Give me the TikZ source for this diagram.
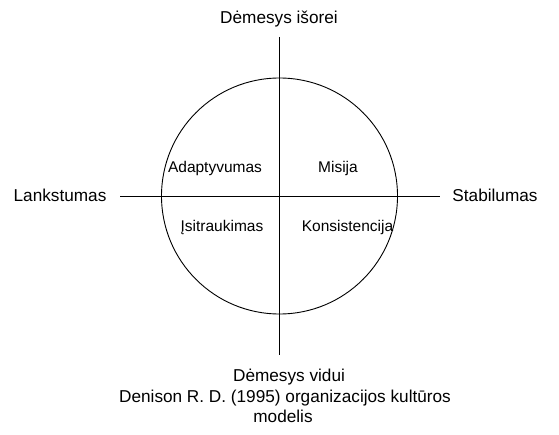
\documentclass[tikz,border=0pt]{standalone}
\usepackage{fontspec}
\setmainfont{Liberation Sans}
\begin{document}
\begin{tikzpicture}[x=1pt,y=-1pt,
  lbl/.style={font=\fontsize{17.2}{20}\selectfont, inner sep=0pt, anchor=base},
  inlbl/.style={font=\fontsize{15.5}{18}\selectfont, inner sep=0pt, anchor=base},
  axis/.style={line width=0.9pt, black}]
\useasboundingbox[fill=white] (0,0) rectangle (559,435);
\coordinate (c) at (279.5,196);
\coordinate (top) at (279.5,37);
\coordinate (bot) at (279.5,355);
\coordinate (lft) at (120,196);
\coordinate (rgt) at (440,196);
\draw[axis] (c) circle[radius=118];
\draw[axis] (top) -- (bot);
\draw[axis] (lft) -- (rgt);
\node[lbl] (n) at (279,23.5) {Dėmesys išorei};
\node[lbl] (s) at (289,381) {Dėmesys vidui};
\node[lbl] (w) at (60,202) {Lankstumas};
\node[lbl] (e) at (495,202) {Stabilumas};
\node[inlbl] (q1) at (215,172.5) {Adaptyvumas};
\node[inlbl] (q2) at (338,172.5) {Misija};
\node[inlbl] (q3) at (222,232) {Įsitraukimas};
\node[inlbl] (q4) at (347.5,232) {Konsistencija};
\node[lbl] (cap1) at (285,402) {Denison R. D. (1995) organizacijos kultūros};
\node[lbl] (cap2) at (283,422.5) {modelis};
\end{tikzpicture}
\end{document}
